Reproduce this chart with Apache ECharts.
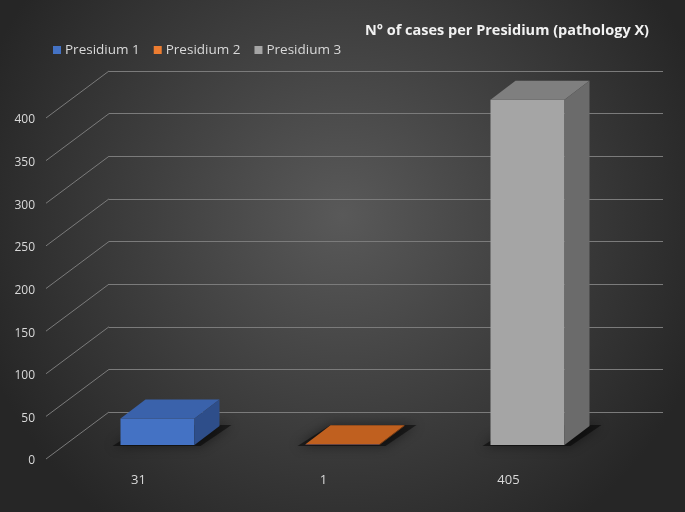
<!DOCTYPE html>
<html><head><meta charset="utf-8">
<script src="https://cdn.jsdelivr.net/npm/echarts@6/dist/echarts.min.js"></script>
<style>html,body{margin:0;padding:0;background:#2b2b2b}#c{width:685px;height:512px}</style>
</head><body><div id="c"></div>
<script>
const categories = ['31', '1', '405'];
const seriesNames = ['Presidium 1', 'Presidium 2', 'Presidium 3'];
const values = [31, 1, 405];
const yTicks = [0, 50, 100, 150, 200, 250, 300, 350, 400];
const titleText = 'N° of cases per Presidium (pathology X)';

const faceColors = [
  {legend: '#4472c4', front: '#4472c4', top: '#3a62ab', side: '#2e4e8a'},
  {legend: '#ed7d31', front: '#5d4a66', top: '#c0601f', side: '#8a4516'},
  {legend: '#a5a5a5', front: '#a5a5a5', top: '#7f7f7f', side: '#6b6b6b'}
];
const DX = 25, DY = -19;      // bar depth (styling)
const GDX = 63, GDY = -47;    // floor depth (styling)
const FONT = 'Open Sans';

const chart = echarts.init(document.getElementById('c'));

function barRender(params, api) {
  const ci = api.value(0);
  const base = api.coord([ci, 0]);
  const top = api.coord([ci, api.value(1)]);
  const bw = api.size([1, 0])[0] * 0.4;
  const x0 = base[0] - bw / 2, x1 = x0 + bw;
  const yb = base[1], yt = top[1];
  const c = faceColors[ci];
  return {
    type: 'group',
    children: [
      {type: 'polygon', shape: {points: [[x0 - 8, yb + 1], [x1 + 6, yb + 1], [x1 + DX + 12, yb + DY - 1], [x0 + DX, yb + DY - 1]]},
        style: {fill: 'rgba(0,0,0,0.5)', shadowBlur: 12, shadowColor: 'rgba(0,0,0,0.9)'}},
      {type: 'rect', shape: {x: x0, y: yt, width: bw, height: Math.max(yb - yt, 0.8)}, style: {fill: c.front}},
      {type: 'polygon', shape: {points: [[x0, yt], [x1, yt], [x1 + DX, yt + DY], [x0 + DX, yt + DY]]}, style: {fill: c.top}},
      {type: 'polygon', shape: {points: [[x1, yt], [x1 + DX, yt + DY], [x1 + DX, yb + DY], [x1, yb]]}, style: {fill: c.side}}
    ]
  };
}

function diagRender(params, api) {
  const v = api.value(0);
  const p = api.coord([0, v]);
  const x = params.coordSys.x;
  return {type: 'line', shape: {x1: x, y1: p[1], x2: x + GDX, y2: p[1] + GDY},
    style: {stroke: '#7b7b7b', lineWidth: 1}};
}

const series = [
  {type: 'custom', name: 'floor', xAxisIndex: 0, yAxisIndex: 0, renderItem: diagRender,
    data: yTicks.map(t => [t]), encode: {y: 0}, silent: true, z: 1}
];
seriesNames.forEach((n, i) => {
  series.push({type: 'custom', name: n, xAxisIndex: 2, yAxisIndex: 2, renderItem: barRender,
    itemStyle: {color: faceColors[i].legend},
    data: [[i, values[i]]], encode: {x: 0, y: 1}, z: 5 + i});
});

chart.setOption({
  animation: false,
  backgroundColor: {type: 'radial', x: 0.5, y: 0.42, r: 0.75,
    colorStops: [{offset: 0, color: '#595959'}, {offset: 1, color: '#262626'}]},
  title: {text: titleText, right: 31, top: 18,
    textStyle: {color: '#f2f2f2', fontSize: 14.5, fontWeight: 'bold', fontFamily: FONT}},
  legend: {data: seriesNames, left: 48, top: 38, itemWidth: 8, itemHeight: 8, itemGap: 14,
    icon: 'rect', textStyle: {color: '#d9d9d9', fontSize: 13.5, fontFamily: FONT, padding: [0, 0, 0, -1]}},
  grid: [
    {left: 46, right: 84, top: 118, bottom: 53},   // front (labels)
    {left: 109, right: 22, top: 71, bottom: 100},  // back wall
    {left: 65, right: 65, top: 104, bottom: 67}    // bars
  ],
  xAxis: [
    {gridIndex: 0, type: 'category', data: categories, axisLine: {show: false}, axisTick: {show: false},
      axisLabel: {color: '#d9d9d9', fontSize: 13, margin: 15, fontFamily: FONT}},
    {gridIndex: 1, type: 'value', show: false},
    {gridIndex: 2, type: 'category', data: categories, show: false}
  ],
  yAxis: [
    {gridIndex: 0, type: 'value', min: 0, max: 400, interval: 50, splitLine: {show: false},
      axisLine: {show: false}, axisTick: {show: false},
      axisLabel: {color: '#d9d9d9', fontSize: 12, margin: 11, fontFamily: FONT,
        verticalAlign: 'top', lineHeight: 12, padding: [-4, 0, 0, 0]}},
    {gridIndex: 1, type: 'value', min: 0, max: 400, interval: 50, axisLabel: {show: false},
      axisLine: {show: false}, axisTick: {show: false},
      splitLine: {show: true, lineStyle: {color: '#7b7b7b', width: 1}}},
    {gridIndex: 2, type: 'value', min: 0, max: 400, show: false}
  ],
  series: series
});
</script></body></html>
